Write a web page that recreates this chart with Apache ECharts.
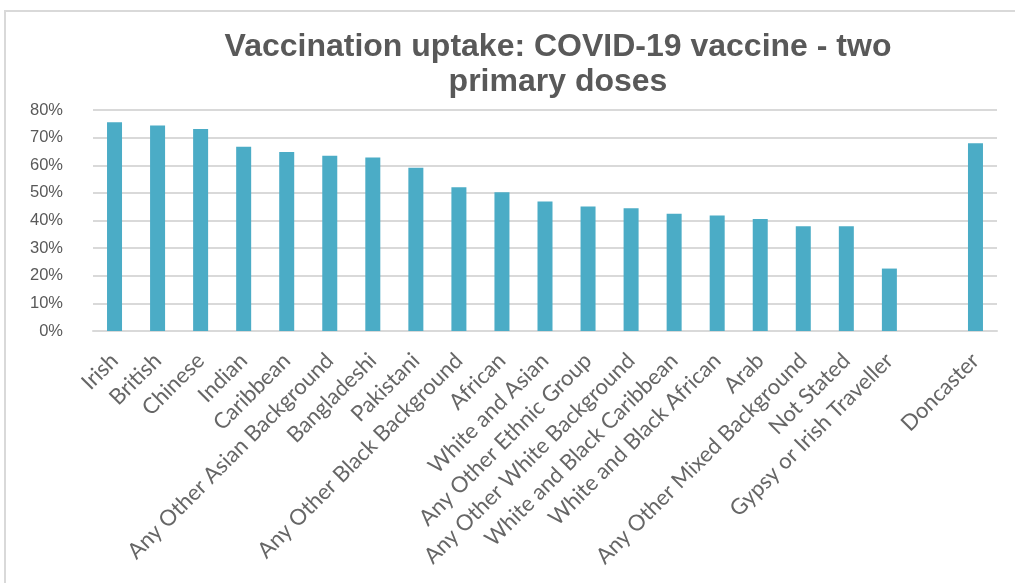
<!DOCTYPE html>
<html>
<head>
<meta charset="utf-8">
<script src="https://cdn.jsdelivr.net/npm/echarts@6/dist/echarts.min.js"></script>
<style>
  html, body { margin: 0; padding: 0; background: #fff; }
  #frame { position: absolute; left: 4px; top: 10px; width: 1100px; height: 700px;
           border-left: 2px solid #d9d9d9; border-top: 2px solid #d9d9d9; }
  #main { position: absolute; left: 0; top: 0; width: 1015px; height: 583px; }
</style>
</head>
<body>
<div id="frame"></div>
<div id="main"></div>
<script>
// categories (blank slot before Doncaster, as in the original)
var groups = ['Irish', 'British', 'Chinese', 'Indian', 'Caribbean',
    'Any Other Asian Background', 'Bangladeshi', 'Pakistani',
    'Any Other Black Background', 'African', 'White and Asian',
    'Any Other Ethnic Group', 'Any Other White Background',
    'White and Black Caribbean', 'White and Black African', 'Arab',
    'Any Other Mixed Background', 'Not Stated', 'Gypsy or Irish Traveller',
    '', 'Doncaster'];
// two primary doses, percent
var uptake = [75.6, 74.4, 73.1, 66.7, 64.8, 63.4, 62.8, 59.1, 52.0, 50.2,
    46.9, 45.1, 44.4, 42.4, 41.8, 40.5, 37.9, 37.9, 22.6, '-', 68.0];
var yTicks = [0, 10, 20, 30, 40, 50, 60, 70, 80];

var chart = echarts.init(document.getElementById('main'));

var option = {
    animation: false,
    title: {
        text: 'Vaccination uptake: COVID-19 vaccine - two\nprimary doses',
        left: 553,
        top: 25,
        textAlign: 'center',
        textStyle: {
            fontFamily: 'Liberation Sans, Arial, sans-serif',
            fontWeight: 'bold',
            fontSize: 32,
            lineHeight: 35,
            color: '#595959'
        }
    },
    grid: { left: 93, right: 18, top: 110, bottom: 252, containLabel: false },
    xAxis: {
        type: 'category',
        data: groups,
        axisLine: { lineStyle: { color: '#d9d9d9', width: 2 } },
        axisTick: { show: false },
        axisLabel: {
            interval: 0,
            rotate: 45,
            margin: 26,
            fontFamily: 'Lato, sans-serif',
            fontSize: 22,
            color: '#666666'
        }
    },
    yAxis: {
        type: 'value',
        min: yTicks[0],
        max: yTicks[yTicks.length - 1],
        interval: 10,
        axisLine: { show: false },
        axisTick: { show: false },
        splitLine: { lineStyle: { color: '#d9d9d9', width: 2 } },
        axisLabel: {
            formatter: '{value}%',
            margin: 30,
            fontFamily: 'Liberation Sans, Arial, sans-serif',
            fontSize: 16.5,
            color: '#595959'
        }
    },
    series: [{
        type: 'bar',
        data: uptake,
        barWidth: 15,
        itemStyle: { color: '#4bacc6' }
    }]
};

chart.setOption(option);
</script>
</body>
</html>
